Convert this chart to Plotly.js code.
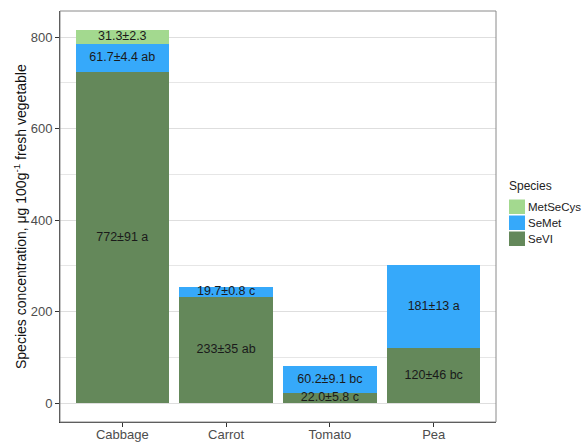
<!DOCTYPE html>
<html>
<head>
<meta charset="utf-8">
<script src="https://cdn.plot.ly/plotly-3.0.1.min.js"></script>
<style>html,body{margin:0;padding:0;background:#fff;}#chart{width:582px;height:442px;}</style>
</head>
<body>
<div id="chart"></div>
<script>
const categories = ["Cabbage", "Carrot", "Tomato", "Pea"];
const seVI = [723, 233, 22, 120];
const seMet = [62, 20, 60, 181];
const metSeCys = [31, 0, 0, 0];
const seVILabels = ["772±91 a", "233±35 ab", "22.0±5.8 c", "120±46 bc"];
const seMetLabels = ["61.7±4.4 ab", "19.7±0.8 c", "60.2±9.1 bc", "181±13 a"];
const metSeCysLabels = ["31.3±2.3", "", "", ""];
const yTicks = [0, 200, 400, 600, 800];
const legendTitle = "Species";
const yTitle = "Species concentration, μg 100g<sup>-1</sup> fresh vegetable";

const colVI = "#64885a", colMet = "#36a9fa", colCys = "#a3d98f";
const font = "Liberation Sans, Arial, sans-serif";

const series = [
  {name: "SeVI", vals: seVI, labels: seVILabels, color: colVI},
  {name: "SeMet", vals: seMet, labels: seMetLabels, color: colMet},
  {name: "MetSeCys", vals: metSeCys, labels: metSeCysLabels, color: colCys}
];

// plot-area geometry (pixels) used to place the hand-drawn legend
const M = {l: 60, r: 86, t: 11, b: 20};
const PW = 582 - M.l - M.r, PH = 442 - M.t - M.b;
const px = x => (x - M.l) / PW;
const py = y => (442 - M.b - y) / PH;

const traces = [];
const base = categories.map(() => 0);
const textTraces = [];
series.forEach(s => {
  traces.push({
    type: "bar", name: s.name, x: categories, y: s.vals,
    marker: {color: s.color, line: {width: 0}}, hoverinfo: "none", showlegend: false
  });
  const xs = [], ys = [], ts = [];
  s.vals.forEach((v, i) => {
    if (s.labels[i]) { xs.push(categories[i]); ys.push(base[i] + v / 2); ts.push(s.labels[i]); }
    base[i] += v;
  });
  textTraces.push({
    type: "scatter", mode: "text", x: xs, y: ys, text: ts,
    textfont: {family: font, size: 12.5, color: "#1a1a1a"},
    showlegend: false, hoverinfo: "none", cliponaxis: false
  });
});

// legend (top to bottom: MetSeCys, SeMet, SeVI)
const legendOrder = series.slice().reverse();
const shapes = [{
  type: "rect", xref: "paper", yref: "paper", x0: 0, x1: 1, y0: 0, y1: 1,
  line: {color: "#8a8a8a", width: 1}, fillcolor: "rgba(0,0,0,0)", layer: "above"
}];
const annotations = [
  {xref: "paper", yref: "paper", x: px(20), y: py(217), text: yTitle, textangle: -90,
   showarrow: false, xanchor: "center", yanchor: "middle", font: {family: font, size: 14, color: "#111"}},
  {xref: "paper", yref: "paper", x: px(509), y: py(186), text: legendTitle,
   showarrow: false, xanchor: "left", yanchor: "middle", xshift: -2, font: {family: font, size: 12, color: "#222"}}
];
legendOrder.forEach((s, k) => {
  const top = 199 + k * 16;
  shapes.push({type: "rect", xref: "paper", yref: "paper",
    x0: px(509), x1: px(525), y0: py(top + 15), y1: py(top + 0.5),
    line: {width: 0}, fillcolor: s.color});
  annotations.push({xref: "paper", yref: "paper", x: px(527), y: py(top + 8), text: s.name,
    showarrow: false, xanchor: "left", yanchor: "middle", xshift: 0, borderpad: 0,
    font: {family: font, size: 11.5, color: "#222"}});
});

const layout = {
  width: 582, height: 442,
  margin: {l: M.l, r: M.r, t: M.t, b: M.b, autoexpand: false},
  paper_bgcolor: "#fff", plot_bgcolor: "#fff",
  barmode: "stack", bargap: 0.1,
  font: {family: font, size: 12, color: "#222"},
  showlegend: false,
  xaxis: {
    type: "category", range: [-0.6, 3.6], automargin: false,
    showgrid: false, zeroline: false,
    showline: true, linecolor: "#333", linewidth: 1,
    ticks: "outside", ticklen: 4, tickcolor: "#333", ticklabelstandoff: -4,
    tickfont: {family: font, size: 13, color: "#4d4d4d"},
    fixedrange: true
  },
  yaxis: {
    range: [-40.8, 856.8], tickvals: yTicks, ticktext: yTicks.map(String), automargin: false,
    showgrid: true, gridcolor: "#dedede", gridwidth: 1, zeroline: false,
    minor: {tickvals: [100, 300, 500, 700], showgrid: true, gridcolor: "#e6e6e6", gridwidth: 1, ticks: ""},
    showline: true, linecolor: "#333", linewidth: 1,
    ticks: "outside", ticklen: 4, tickcolor: "#333",
    tickfont: {family: font, size: 13, color: "#4d4d4d"},
    fixedrange: true
  },
  shapes: shapes,
  annotations: annotations
};

Plotly.newPlot("chart", traces.concat(textTraces), layout, {staticPlot: true, displayModeBar: false});
</script>
</body>
</html>
